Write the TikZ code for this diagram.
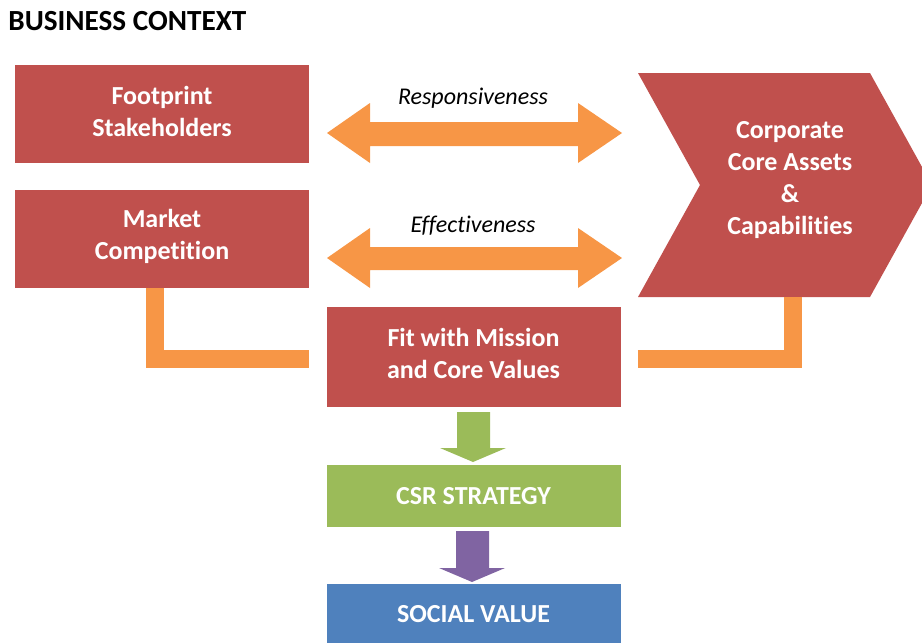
\documentclass[tikz,border=0pt]{standalone}
\usepackage{fontspec}
\setmainfont[Ligatures=NoCommon]{Carlito}
\definecolor{boxred}{HTML}{C0504D}
\definecolor{linkorange}{HTML}{F79646}
\definecolor{stratgreen}{HTML}{9BBB59}
\definecolor{valuepurple}{HTML}{8064A2}
\definecolor{valueblue}{HTML}{4F81BD}
\tikzset{
  box/.style={fill=#1, text=white, font=\fontsize{13}{16}\selectfont\bfseries,
    align=center, inner sep=0pt, minimum width=147pt},
  link/.style={draw=linkorange, line width=9pt},
  arrowlabel/.style={font=\fontsize{12}{14}\selectfont\itshape}
}
\begin{document}
\begin{tikzpicture}[x=0.5pt,y=-0.5pt]
\useasboundingbox (0,0) rectangle (922,643);
\clip (0,0) rectangle (922,643);
% title
\node [anchor=west,inner sep=0pt,font=\fontsize{14.6}{16}\selectfont\bfseries] (title) at (8,21) {BUSINESS CONTEXT};
% left boxes
\node [box=boxred,minimum height=49pt,text depth=3pt] (footprint) at (162,114) {Footprint\\Stakeholders};
\node [box=boxred,minimum height=49pt,text depth=4.5pt] (market) at (162,239) {Market\\Competition};
% chevron
\fill [boxred] (638,73) -- (870,73) -- (932,185) -- (870,297) -- (638,297) -- (700,185) -- cycle;
\coordinate (core-s) at (792.5,297);
\node [font=\fontsize{13}{16}\selectfont\bfseries,text=white,align=center] (core) at (790,180) {Corporate\\Core Assets\\\&\\Capabilities};
% double arrows
\fill [linkorange] (327,133) -- (370,103) -- (370,122) -- (578,122) -- (578,103) -- (622,133)
  -- (578,163) -- (578,146) -- (370,146) -- (370,163) -- cycle;
\node [arrowlabel] (resp) at (473,98) {Responsiveness};
\fill [linkorange] (327,258) -- (370,228) -- (370,247) -- (578,247) -- (578,228) -- (622,258)
  -- (578,288) -- (578,270) -- (370,270) -- (370,288) -- cycle;
\node [arrowlabel] (eff) at (473,226) {Effectiveness};
% centre column
\node [box=boxred,minimum height=50pt,text depth=4pt] (fit) at (473.5,357) {Fit with Mission\\and Core Values};
\node [box=stratgreen,minimum height=31pt] (csr) at (473.5,496) {CSR STRATEGY};
\node [box=valueblue,minimum height=33pt,text depth=3.5pt] (social) at (473.5,617) {SOCIAL VALUE};
\fill [stratgreen] (457,412) -- (490,412) -- (490,448) -- (506,448) -- (473,462) -- (440,448) -- (457,448) -- cycle;
\fill [valuepurple] (456,531) -- (489,531) -- (489,568) -- (505,568) -- (472,582) -- (439,568) -- (456,568) -- cycle;
% orange links
\draw [link] ([xshift=-3.5pt]market.south) |- ([xshift=-8.5pt,yshift=-0.75pt]fit.west);
\draw [link] ([xshift=8.5pt,yshift=-0.75pt]fit.east) -| (core-s);
\end{tikzpicture}
\end{document}
